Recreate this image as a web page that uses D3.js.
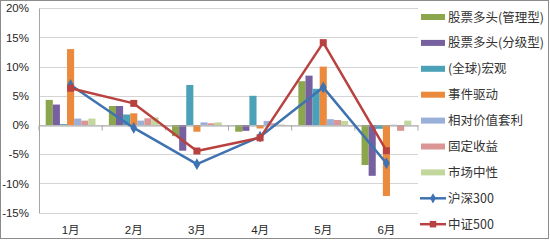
<!DOCTYPE html>
<html>
<head>
<meta charset="utf-8">
<script src="https://cdn.jsdelivr.net/npm/d3@7"></script>
<style>
  body { margin: 0; background: #fff; }
  svg { display: block; font-family: "Liberation Sans", "Noto Sans CJK SC", sans-serif; }
</style>
</head>
<body>
<svg></svg>
<script>
// 月份
const months = ["1月", "2月", "3月", "4月", "5月", "6月"];

// 柱状系列
const barNames = ["股票多头(管理型)", "股票多头(分级型)", "(全球)宏观", "事件驱动", "相对价值套利", "固定收益", "市场中性"];
const stockManaged = [4.3, 3.25, -1.9, -1.15, 7.5, -6.85];
const stockGraded = [3.5, 3.25, -4.4, -1.0, 8.45, -8.7];
const globalMacro = [0.15, 1.8, 6.85, 5.0, 6.2, -0.65];
const eventDriven = [13.0, 2.0, -1.15, -0.6, 10.0, -12.15];
const relativeValue = [1.1, 0.75, 0.45, 0.7, 1.0, 0.05];
const fixedIncome = [0.75, 1.15, 0.3, 0.3, 0.85, -1.0];
const marketNeutral = [1.1, 1.3, 0.45, 0.1, 0.7, 0.75];

// 折线系列
const lineNames = ["沪深300", "中证500"];
const hs300 = [6.85, -0.5, -6.7, -2.0, 6.45, -6.55];
const zz500 = [6.3, 3.7, -4.45, -2.2, 14.1, -4.4];

// y轴刻度
const yTicks = [-15, -10, -5, 0, 5, 10, 15, 20];

const barValues = [stockManaged, stockGraded, globalMacro, eventDriven, relativeValue, fixedIncome, marketNeutral];
const lineValues = [hs300, zz500];
const barColors = ["#8ba64c", "#7660a0", "#4aa1b8", "#eb8a3c", "#9ab0d8", "#d99694", "#c3d69b"];
const lineColors = ["#3f72b0", "#b8423f"];

const width = 550;
const height = 240;
const marginLeft = 39;
const plotRight = 418;
const plotTop = 8.2;
const plotBottom = 212.6;

const svg = d3.select("svg")
    .attr("width", width)
    .attr("height", height)
    .attr("viewBox", [0, 0, width, height]);

// 外框
svg.append("rect")
    .attr("x", 0.5).attr("y", 0.5)
    .attr("width", 548).attr("height", 238)
    .attr("fill", "#fff")
    .attr("stroke", "#8c8c8c");

// 尺子
const x = d3.scaleBand()
    .domain(months)
    .range([marginLeft, plotRight]);

const xInner = d3.scaleBand()
    .domain(barNames)
    .range([6.7, x.bandwidth() - 6.7]);

const y = d3.scaleLinear()
    .domain([-15, 20])
    .range([plotBottom, plotTop]);

// 网格线
svg.append("g")
  .selectAll()
  .data(yTicks)
  .join("line")
    .attr("x1", marginLeft)
    .attr("x2", plotRight)
    .attr("y1", d => Math.round(y(d)) + 0.5)
    .attr("y2", d => Math.round(y(d)) + 0.5)
    .attr("stroke", "#d4d4d4");

// Y轴
svg.append("g")
    .attr("transform", `translate(${marginLeft},0)`)
    .call(d3.axisLeft(y).tickValues(yTicks).tickSize(0).tickPadding(10).tickFormat(d => d + "%"))
    .call(g => g.select(".domain").attr("stroke", "#a6a6a6"))
    .call(g => g.selectAll("text")
        .attr("font-size", 11.5)
        .attr("fill", "#262626"));

// 柱子
svg.append("g")
  .selectAll()
  .data(barValues.map((vals, i) => vals.map((v, j) => ({name: barNames[i], month: months[j], value: v, i}))).flat())
  .join("rect")
    .attr("x", d => x(d.month) + xInner(d.name))
    .attr("width", xInner.bandwidth())
    .attr("y", d => y(Math.max(0, d.value)))
    .attr("height", d => Math.abs(y(d.value) - y(0)))
    .attr("fill", d => barColors[d.i]);

// X轴（0%位置）
svg.append("g")
    .attr("transform", `translate(0,${Math.round(y(0)) + 0.5})`)
    .call(d3.axisBottom(x).tickSize(0).tickFormat(""))
    .call(g => g.select(".domain").attr("stroke", "#a6a6a6"))
    .call(g => g.selectAll(".bound")
      .data(d3.range(months.length + 1))
      .join("line")
        .attr("x1", i => marginLeft + i * x.bandwidth())
        .attr("x2", i => marginLeft + i * x.bandwidth())
        .attr("y2", 5)
        .attr("stroke", "#a6a6a6"));

// 月份标签
svg.append("g")
  .selectAll()
  .data(months)
  .join("text")
    .attr("x", d => x(d) + x.bandwidth() / 2)
    .attr("y", 234)
    .attr("text-anchor", "middle")
    .attr("font-size", 11.5)
    .attr("fill", "#262626")
    .text(d => d);

// 折线
const line = d3.line()
    .x((d, j) => x(months[j]) + x.bandwidth() / 2)
    .y(d => y(d));

const diamond = d3.symbol(d3.symbolDiamond, 40);
const square = d3.symbol(d3.symbolSquare, 49);

lineValues.forEach((vals, k) => {
  const g = svg.append("g");
  g.append("path")
      .attr("d", line(vals))
      .attr("fill", "none")
      .attr("stroke", lineColors[k])
      .attr("stroke-width", 2.5)
      .attr("stroke-linejoin", "round");
  g.selectAll("path.m")
    .data(vals)
    .join("path")
      .attr("class", "m")
      .attr("transform", (d, j) => `translate(${x(months[j]) + x.bandwidth() / 2},${y(d)})`)
      .attr("d", k === 0 ? diamond() : square())
      .attr("fill", lineColors[k]);
});

// 图例
const legendY = d => 17 + d * 25.9;
const legend = svg.append("g");

barNames.forEach((name, i) => {
  legend.append("rect")
      .attr("x", 421).attr("y", legendY(i) - 3)
      .attr("width", 24).attr("height", 6)
      .attr("fill", barColors[i]);
  legend.append("text")
      .attr("x", 448).attr("y", legendY(i) + 4.5)
      .attr("font-family", "Noto Sans CJK SC")
      .attr("font-size", 12.5)
      .attr("fill", "#333")
      .text(name);
});

lineNames.forEach((name, k) => {
  const ly = legendY(barNames.length + k);
  legend.append("line")
      .attr("x1", 420).attr("x2", 446)
      .attr("y1", ly).attr("y2", ly)
      .attr("stroke", lineColors[k])
      .attr("stroke-width", 2.5);
  legend.append("path")
      .attr("transform", `translate(433,${ly})`)
      .attr("d", k === 0 ? d3.symbol(d3.symbolDiamond, 30)() : d3.symbol(d3.symbolSquare, 42)())
      .attr("fill", lineColors[k]);
  legend.append("text")
      .attr("x", 448).attr("y", ly + 4.5)
      .attr("font-family", "Noto Sans CJK SC")
      .attr("font-size", 12.5)
      .attr("fill", "#333")
      .text(name);
});
</script>
</body>
</html>
